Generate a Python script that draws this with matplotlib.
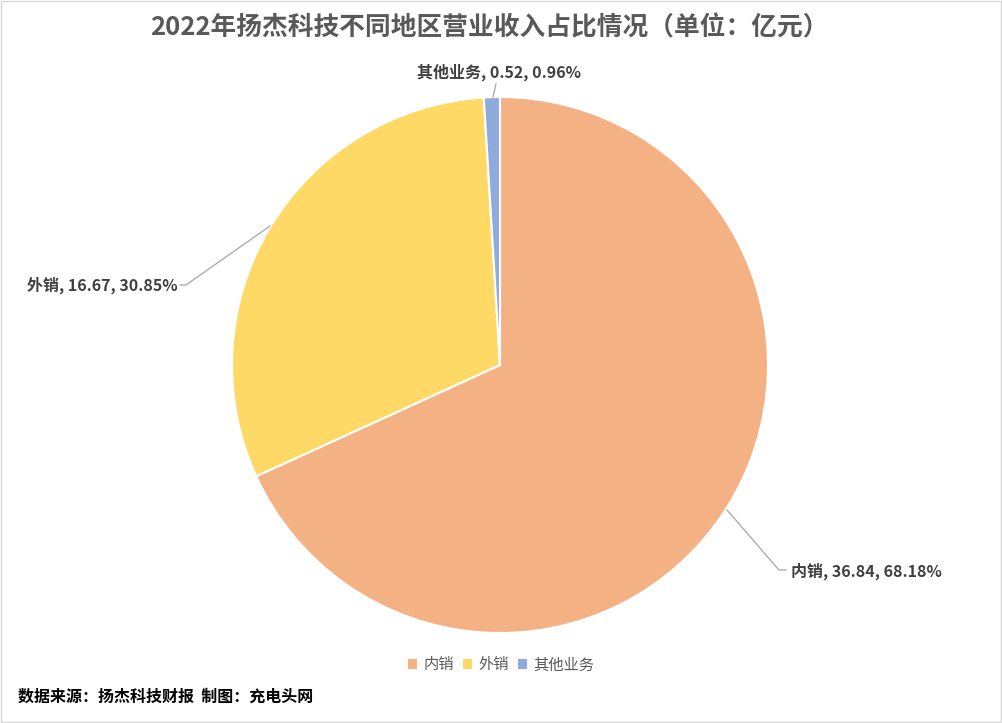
"""
2022 Yangjie revenue share by region (pie)
"""
import matplotlib

matplotlib.use("Agg")
import matplotlib.pyplot as plt  # noqa:E402
from matplotlib.patches import Rectangle  # noqa:E402

plt.rcParams["font.family"] = ["Noto Sans CJK SC", "DejaVu Sans"]

# data
categories = ["内销", "外销", "其他业务"]
values = [36.84, 16.67, 0.52]
colors = ["#F4B183", "#FFD966", "#8FAADC"]

title = "2022年扬杰科技不同地区营业收入占比情况（单位：亿元）"
source = "数据来源：扬杰科技财报  制图：充电头网"

W, H = 1002, 723


def main():
    fig = plt.figure(figsize=(W / 100, H / 100), dpi=100)
    ax = fig.add_axes([0, 0, 1, 1])

    # light frame around the chart
    ax.add_patch(Rectangle((1, 1), W - 2, H - 2, fill=False, ec="#D9D9D9", lw=1))

    cx, cy, r = 500, H - 365, 268
    ax.pie(
        values,
        colors=colors,
        startangle=90,
        counterclock=False,
        center=(cx, cy),
        radius=r,
        wedgeprops=dict(edgecolor="white", linewidth=1.5),
        frame=True,
    )
    ax.set_xlim(0, W)
    ax.set_ylim(0, H)
    ax.set_aspect("equal")
    ax.axis("off")

    total = sum(values)
    labels = [f"{c}, {v:.2f}, {v / total * 100:.2f}%" for c, v in zip(categories, values)]

    lab_kw = dict(fontsize=11.5, fontweight="bold", color="#404040", va="center")
    line_kw = dict(color="#A6A6A6", lw=0.9)

    # 内销
    ax.plot([727, 779, 786], [H - 510, H - 570, H - 570], **line_kw)
    ax.text(791, H - 571, labels[0], ha="left", **lab_kw)
    # 外销
    ax.plot([270, 186, 180], [H - 226, H - 285, H - 285], **line_kw)
    ax.text(178, H - 285, labels[1], ha="right", **lab_kw)
    # 其他业务
    ax.plot([493, 496], [H - 97, H - 84], **line_kw)
    ax.text(499, H - 72, labels[2], ha="center", **lab_kw)

    ax.text(489, H - 28, title, ha="center", va="center",
            fontsize=18.5, fontweight="bold", color="#595959")

    # legend
    handles = [Rectangle((0, 0), 1, 1, fc=c, ec="none") for c in colors]
    fig.legend(handles, categories, loc="center", bbox_to_anchor=(0.5, 1 - 665 / H),
               ncol=3, frameon=False, fontsize=11, handlelength=0.6, handleheight=0.6,
               handletextpad=0.4, columnspacing=0.6, labelcolor="#595959")

    ax.text(18, H - 697, source, ha="left", va="center",
            fontsize=11.5, fontweight="bold", color="black")

    fig.savefig("out.png", dpi=100)
    plt.close(fig)


if __name__ == "__main__":
    main()
